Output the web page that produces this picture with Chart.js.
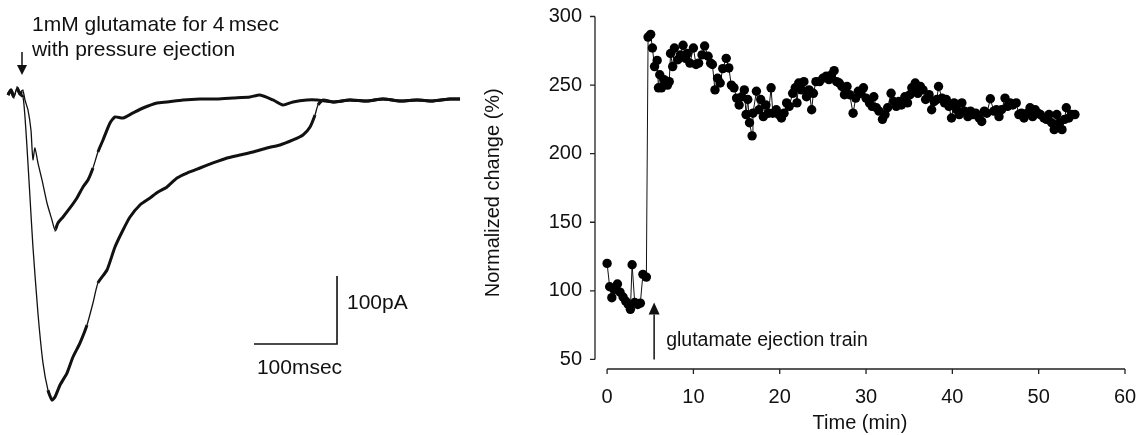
<!DOCTYPE html>
<html>
<head>
<meta charset="utf-8">
<script src="https://cdn.jsdelivr.net/npm/chart.js@4.4.1/dist/chart.umd.min.js"></script>
<style>
  html, body { margin: 0; padding: 0; background: #fff; }
  #wrap { position: relative; width: 1137px; height: 435px; overflow: hidden; }
  #left { position: absolute; left: 0; top: 0; }
  #right { position: absolute; left: 430px; top: 0; }
</style>
</head>
<body>
<div id="wrap">
  <canvas id="left" width="470" height="435"></canvas>
  <canvas id="right" width="750" height="435"></canvas>
</div>
<script>
// ---- left panel: current traces (ms, pA) ----
const smallMs = [0, 3.6, 7.2, 10.8, 14.5, 18.1, 20.5, 24.1, 27.7, 28.9, 30.1, 32.5, 36.1, 41, 47, 53, 56.6, 60.2,
  66.3, 74.7, 83.1, 90.4, 96.4, 102.4, 108.4, 114.5, 122.9, 128.9, 138.6, 150.6, 162.7, 179.5, 191.6, 210.8,
  231.3, 251.8, 271.1, 291.6, 303.6, 319.3, 331.3, 343.4, 360.2, 372.3, 391.6, 412, 432.5, 451.8, 472.3,
  492.8, 512, 532.5, 544.6];
const smallPa = [7.4, 14.7, 4.4, 17.6, 8.8, 13.2, 0, -14.7, -44.1, -69.1, -88.2, -70.6, -92.6, -117.6, -151.5,
  -176.5, -191.2, -180.9, -172, -158.8, -144.1, -127.9, -117.6, -100, -76.5, -58.8, -33.8, -25, -26.5, -19.1,
  -11.8, -4.4, -2.9, 0, 1.5, 1.5, 2.9, 4.4, 7.4, 0, -7.4, -2.9, 0, 0, -2.9, 0, -1.5, 1.5, -1.5, 0, -1.5, 1.5, 1.5];

const largeMs = [0, 3.6, 7.2, 10.8, 14.5, 18.1, 20.5, 22.9, 26.5, 30.1, 36.1, 42.2, 48.2, 53, 56.6, 62.7, 71.1,
  78.3, 86.7, 95.2, 102.4, 108.4, 119.3, 128.9, 138.6, 147, 159, 171.1, 180.7, 191.6, 203.6, 215.7, 231.3,
  247, 263.9, 279.5, 295.2, 312, 327.7, 343.4, 355.4, 363.9, 369.9, 373.5, 379.5, 391.6, 412, 432.5, 451.8,
  472.3, 492.8, 512, 532.5, 544.6];
const largePa = [7.4, 14.7, 4.4, 17.6, 8.8, 4.4, -25, -69.1, -142.6, -216.2, -313.2, -386.8, -426.5, -441.2,
  -436.8, -419.1, -401.5, -377.9, -357.4, -330.9, -298.5, -269.1, -250, -216.2, -191.2, -172.1, -154.4,
  -144.1, -135.3, -127.9, -114.7, -107.4, -100, -92.6, -85.3, -80.9, -76.5, -70.6, -66.2, -58.8, -51.5,
  -39.7, -22.1, -7.4, 0, -2.9, 0, -1.5, 1.5, -1.5, 0, -1.5, 1.5, 1.5];

// ---- right panel: normalized change vs time ----
const timeMin = [0, 0.3, 0.55, 0.85, 1.2, 1.5, 1.85, 2.15, 2.45, 2.7, 2.9, 3.2, 3.55, 3.85, 4.15, 4.55, 4.75,
  5.05, 5.25, 5.5, 5.8, 5.95, 6.1, 6.3, 6.6, 7.0, 7.2, 7.35, 7.6, 7.8, 8.2, 8.5, 8.8, 9.1, 9.3, 9.6, 10.0,
  10.3, 10.6, 11.0, 11.3, 11.7, 12.0, 12.2, 12.5, 12.8, 13.1, 13.4, 13.8, 14.1, 14.4, 14.7, 15.0, 15.3,
  15.6, 15.9, 16.1, 16.3, 16.5, 16.8, 16.9, 17.3, 17.6, 17.8, 18.1, 18.4, 18.7, 19.0, 19.2, 19.6, 19.9,
  20.2, 20.5, 20.8, 21.1, 21.5, 21.8, 22.0, 22.2, 22.5, 22.8, 23.1, 23.4, 23.7, 23.9, 24.2, 24.6, 25.0,
  25.4, 25.7, 26.0, 26.3, 26.6, 26.9, 27.2, 27.5, 27.8, 28.1, 28.5, 28.8, 29.1, 29.4, 29.7, 30.0, 30.4,
  30.7, 30.9, 31.2, 31.5, 31.9, 32.2, 32.5, 32.9, 33.2, 33.5, 33.8, 34.1, 34.5, 34.8, 35.1, 35.3, 35.7,
  36.0, 36.3, 36.6, 36.9, 37.3, 37.6, 37.9, 38.2, 38.4, 38.8, 39.1, 39.3, 39.6, 39.9, 40.2, 40.5, 40.8,
  41.1, 41.4, 41.8, 42.1, 42.4, 42.7, 43.1, 43.4, 43.7, 44.0, 44.4, 44.8, 45.1, 45.4, 45.7, 46.1, 46.4,
  46.7, 47.0, 47.4, 47.7, 48.0, 48.3, 48.7, 49.0, 49.3, 49.6, 49.9, 50.2, 50.6, 50.9, 51.2, 51.5, 51.8,
  52.1, 52.4, 52.7, 53.0, 53.2, 53.5, 53.8, 54.2];
const normChange = [120, 103, 95, 101, 105, 99, 95.5, 92.5, 90, 86.5, 119, 91.5, 90, 91, 112, 110, 285,
  287, 277, 263.5, 268, 248, 257.5, 248, 254, 250, 252.5, 273, 263.5, 277, 268.5, 272, 279, 269.5, 273, 266,
  277, 265, 266, 272, 278.5, 271, 266, 265, 246.5, 255, 251.5, 262, 269.5, 262.5, 250, 248, 240.5, 235.5,
  241.5, 246.5, 228.5, 239.5, 222.5, 213, 229.5, 245.5, 232, 239.5, 227, 235.5, 229.5, 248, 229.5, 232,
  228.5, 226, 229.5, 237, 234.5, 244, 248, 237, 251.5, 246.5, 252.5, 241.5, 246.5, 232, 244, 252.5, 252.5,
  255, 256.5, 254, 257.5, 260.5, 252.5, 251.5, 249, 243, 249, 243, 229.5, 240.5, 245.5, 244, 248, 240.5,
  237, 234.5, 241.5, 233.5, 231, 225, 228.5, 233.5, 244, 238, 234.5, 238, 235.5, 241.5, 237, 243, 248,
  251.5, 244, 249, 246.5, 239.5, 243, 232, 238, 239.5, 249, 240.5, 237, 239.5, 234.5, 226, 237, 232, 228.5,
  237, 231, 227, 231, 228.5, 229.5, 226, 223.5, 231, 229.5, 240, 231, 232, 227, 232, 240.5, 234.5, 237,
  235.5, 237, 228.5, 229.5, 226, 229.5, 233.5, 227, 232, 229.5, 228.5, 226, 225, 228.5, 222.5, 217.5,
  228.5, 222.5, 217.5, 225, 233.5, 226, 228.5, 228.5];

const xTicks = [0, 10, 20, 30, 40, 50, 60];
const yTicks = [50, 100, 150, 200, 250, 300];

const INK = '#111';
const FONT = '"Liberation Sans", Arial, sans-serif';

function arrow(ctx, x, y0, y1, head, half) {
  // shaft from y0 to tip y1, filled triangle head at the tip
  const dir = y1 > y0 ? 1 : -1;
  ctx.beginPath();
  ctx.moveTo(x, y0);
  ctx.lineTo(x, y1 - dir * head);
  ctx.stroke();
  ctx.beginPath();
  ctx.moveTo(x, y1);
  ctx.lineTo(x - half, y1 - dir * head);
  ctx.lineTo(x + half, y1 - dir * head);
  ctx.closePath();
  ctx.fill();
}

const leftNotes = {
  id: 'leftNotes',
  afterDatasetsDraw(chart) {
    const { ctx, scales: { x, y } } = chart;
    ctx.save();
    ctx.strokeStyle = INK;
    ctx.fillStyle = INK;
    ctx.lineWidth = 1.5;
    arrow(ctx, x.getPixelForValue(16.9), y.getPixelForValue(70.6), y.getPixelForValue(36.8), 10, 5);

    // scale bars: 100 ms x 100 pA
    ctx.lineWidth = 1.6;
    ctx.beginPath();
    ctx.moveTo(x.getPixelForValue(296.4), y.getPixelForValue(-358.8));
    ctx.lineTo(x.getPixelForValue(396.4), y.getPixelForValue(-358.8));
    ctx.lineTo(x.getPixelForValue(396.4), y.getPixelForValue(-258.8));
    ctx.stroke();

    ctx.font = '21px ' + FONT;
    ctx.textAlign = 'left';
    ctx.textBaseline = 'middle';
    ctx.fillText('1mM glutamate for 4\u2009msec', x.getPixelForValue(28.9), y.getPixelForValue(110.3));
    ctx.fillText('with pressure ejection', x.getPixelForValue(28.9), y.getPixelForValue(73.5));
    ctx.fillText('100pA', x.getPixelForValue(408.4), y.getPixelForValue(-298.5));
    ctx.fillText('100msec', x.getPixelForValue(299.9), y.getPixelForValue(-394.1));
    ctx.restore();
  }
};

const steep = (c) => Math.abs(c.p1.y - c.p0.y) > 3 * Math.abs(c.p1.x - c.p0.x);

new Chart(document.getElementById('left'), {
  type: 'line',
  data: {
    datasets: [
      {
        data: largeMs.map((v, i) => ({ x: v, y: largePa[i] })),
        borderColor: INK, borderWidth: 3, pointRadius: 0, tension: 0.2,
        segment: { borderWidth: c => steep(c) ? 1.3 : 3 }
      },
      {
        data: smallMs.map((v, i) => ({ x: v, y: smallPa[i] })),
        borderColor: INK, borderWidth: 3, pointRadius: 0, tension: 0.2,
        segment: { borderWidth: c => steep(c) ? 1.3 : 3 }
      }
    ]
  },
  options: {
    responsive: false,
    animation: false,
    layout: { padding: 0 },
    plugins: { legend: { display: false }, tooltip: { enabled: false } },
    scales: {
      x: { type: 'linear', display: false, min: -9.6, max: 556.6 },
      y: { type: 'linear', display: false, min: -492.6, max: 147 }
    }
  },
  plugins: [leftNotes]
});

const rightNotes = {
  id: 'rightNotes',
  afterDraw(chart) {
    const { ctx, chartArea, scales: { x, y } } = chart;
    ctx.save();
    ctx.strokeStyle = '#222';
    ctx.fillStyle = INK;
    ctx.lineWidth = 1.3;
    // detached axes
    const ax = chartArea.left;
    ctx.beginPath();
    ctx.moveTo(ax, y.getPixelForValue(yTicks[0]));
    ctx.lineTo(ax, y.getPixelForValue(yTicks[yTicks.length - 1]));
    yTicks.forEach(v => {
      const py = y.getPixelForValue(v);
      ctx.moveTo(ax - 5, py);
      ctx.lineTo(ax, py);
    });
    const ay = chartArea.bottom;
    ctx.moveTo(x.getPixelForValue(xTicks[0]), ay);
    ctx.lineTo(x.getPixelForValue(xTicks[xTicks.length - 1]), ay);
    xTicks.forEach(v => {
      const px = x.getPixelForValue(v);
      ctx.moveTo(px, ay);
      ctx.lineTo(px, ay + 5);
    });
    ctx.stroke();

    // stimulus arrow
    ctx.strokeStyle = INK;
    ctx.lineWidth = 1.5;
    arrow(ctx, x.getPixelForValue(5.45), y.getPixelForValue(50), y.getPixelForValue(91.5), 12, 5.5);
    ctx.font = '19.5px ' + FONT;
    ctx.textAlign = 'left';
    ctx.textBaseline = 'middle';
    ctx.fillText('glutamate ejection train', x.getPixelForValue(6.84), y.getPixelForValue(63.9));
    ctx.restore();
  }
};

const tickFont = { family: FONT, size: 20 };

new Chart(document.getElementById('right'), {
  type: 'line',
  data: {
    datasets: [{
      data: timeMin.map((v, i) => ({ x: v, y: normChange[i] })),
      borderColor: INK,
      borderWidth: 1,
      pointRadius: 4.7,
      pointBackgroundColor: '#000',
      pointBorderWidth: 0,
      tension: 0
    }]
  },
  options: {
    responsive: false,
    animation: false,
    layout: { padding: { left: 0, right: 55, top: 16.5, bottom: 0 } },
    plugins: { legend: { display: false }, tooltip: { enabled: false } },
    scales: {
      x: {
        type: 'linear', min: -1.4, max: 60,
        afterBuildTicks: s => { s.ticks = xTicks.map(v => ({ value: v })); },
        afterFit: s => { s.height = 66; },
        grid: { display: false, drawTicks: true, tickLength: 16 },
        border: { display: false },
        ticks: { font: tickFont, color: INK, padding: 0, maxRotation: 0, autoSkip: false },
        title: { display: true, text: 'Time (min)', font: tickFont, color: INK, padding: { top: 0, bottom: 0 } }
      },
      y: {
        type: 'linear', min: 43, max: 300,
        afterBuildTicks: s => { s.ticks = yTicks.map(v => ({ value: v })); },
        afterFit: s => { s.width = 165; },
        grid: { display: false, drawTicks: true, tickLength: 13 },
        border: { display: false },
        ticks: { font: tickFont, color: INK, padding: 0, autoSkip: false },
        title: { display: true, text: 'Normalized change (%)', font: tickFont, color: INK, padding: { top: 51, bottom: 0 } }
      }
    }
  },
  plugins: [rightNotes]
});
</script>
</body>
</html>
